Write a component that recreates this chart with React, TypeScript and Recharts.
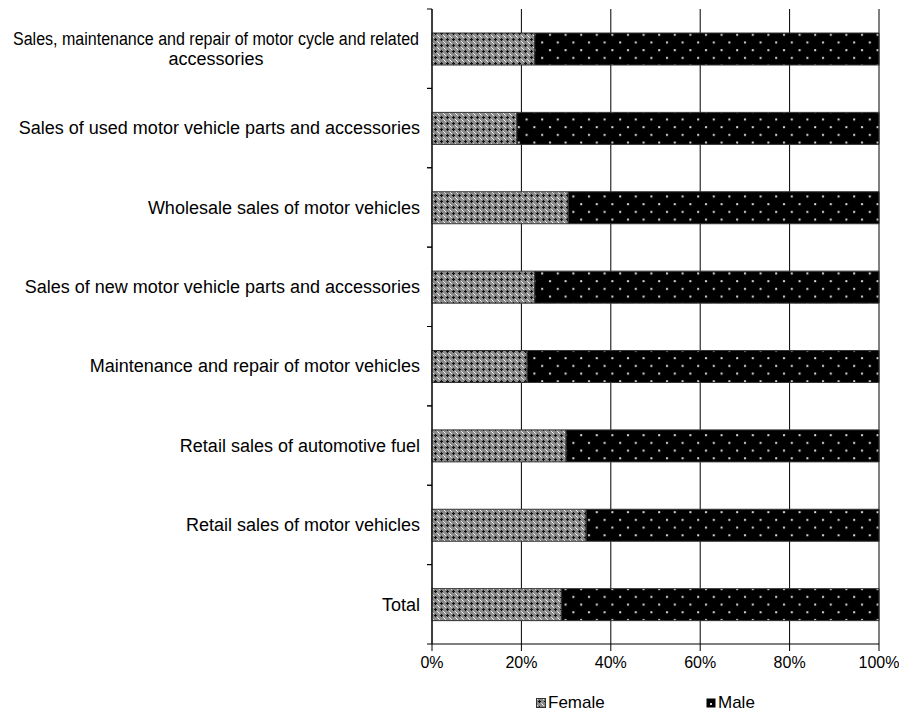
import { BarChart, Bar, XAxis, YAxis, CartesianGrid } from 'recharts'

const CATEGORIES = [
  'Sales, maintenance and repair of motor cycle and related accessories',
  'Sales of used motor vehicle parts and accessories',
  'Wholesale sales of motor vehicles',
  'Sales of new motor vehicle parts and accessories',
  'Maintenance and repair of motor vehicles',
  'Retail sales of automotive fuel',
  'Retail sales of motor vehicles',
  'Total',
]
const FEMALE = [0.23, 0.19, 0.305, 0.23, 0.213, 0.30, 0.345, 0.29]
const X_TICKS = [0, 0.2, 0.4, 0.6, 0.8, 1]

const FONT = '"Liberation Sans", Arial, sans-serif'

const data = CATEGORIES.map((name, i) => ({
  name,
  female: FEMALE[i],
  male: 1 - FEMALE[i],
}))

function CategoryTick(props: any) {
  const { x, y, payload } = props
  const half = payload.offset ? payload.offset : 635 / 16
  const label: string = payload.value
  const lines = label.length > 55
    ? ['Sales, maintenance and repair of motor cycle and related', 'accessories']
    : [label]
  return (
    <g>
      <line x1={x + 7} x2={x + 12} y1={y - half} y2={y - half} stroke="#000" />
      <line x1={x + 7} x2={x + 12} y1={y + half} y2={y + half} stroke="#000" />
      {lines.length === 1 ? (
        <text x={x} y={y} dy="0.35em" textAnchor="end" fontSize={18} fontFamily={FONT} fill="#000">
          {label}
        </text>
      ) : (
        <text fontSize={18} fontFamily={FONT} fill="#000" textAnchor="middle">
          <tspan x={x - 204} y={y - 10} dy="0.35em" textLength={406} lengthAdjust="spacingAndGlyphs">{lines[0]}</tspan>
          <tspan x={x - 204} y={y + 10} dy="0.35em">{lines[1]}</tspan>
        </text>
      )}
    </g>
  )
}

export default function App() {
  return (
    <div style={{ position: 'absolute', left: 0, top: 0, width: 899, height: 715, background: '#fff' }}>
      <BarChart
        width={899}
        height={715}
        data={data}
        layout="vertical"
        margin={{ top: 9, right: 20, bottom: 0, left: 0 }}
      >
        <defs>
          <pattern id="femalePat" width="6" height="6" patternUnits="userSpaceOnUse">
            <rect width="6" height="6" fill="#8a8a8a" />
            <rect x="0" y="0" width="1" height="1" fill="#fff" />
            <rect x="1" y="1" width="1" height="1" fill="#e0e0e0" />
            <rect x="3" y="2" width="1" height="3" fill="#111" />
            <rect x="2" y="3" width="3" height="1" fill="#111" />
            <rect x="5" y="5" width="1" height="1" fill="#e0e0e0" />
          </pattern>
          <pattern id="malePat" width="15.6" height="15.4" patternUnits="userSpaceOnUse">
            <rect width="15.6" height="15.4" fill="#000" />
            <rect x="3" y="3" width="2" height="2" fill="#ddd" />
            <rect x="10.8" y="10.7" width="2" height="2" fill="#ddd" />
          </pattern>
        </defs>
        <CartesianGrid vertical horizontal={false} stroke="#000" strokeOpacity={1} />
        <XAxis
          type="number"
          domain={[0, 1]}
          ticks={X_TICKS}
          tickFormatter={(v: number) => `${Math.round(v * 100)}%`}
          height={71}
          tickSize={7}
          tickMargin={6}
          stroke="#000"
          tick={{ fontSize: 16, fontFamily: FONT, fill: '#000' }}
          interval={0}
        />
        <YAxis
          type="category"
          dataKey="name"
          width={432}
          tickLine={false}
          tickSize={0}
          tickMargin={12}
          stroke="#000"
          interval={0}
          tick={<CategoryTick />}
        />
        <Bar dataKey="female" stackId="a" barSize={32} fill="url(#femalePat)" stroke="#333" strokeWidth={1} isAnimationActive={false} />
        <Bar dataKey="male" stackId="a" barSize={32} fill="url(#malePat)" stroke="#333" strokeWidth={1} isAnimationActive={false} />
      </BarChart>
      <div style={{ position: 'absolute', top: 693, left: 536, display: 'flex', alignItems: 'center', fontFamily: FONT, fontSize: 17, color: '#000' }}>
        <svg width="10" height="10" style={{ marginRight: 2 }}>
          <rect x="0.5" y="0.5" width="9" height="9" fill="url(#femalePat)" stroke="#333" />
        </svg>
        <span>Female</span>
      </div>
      <div style={{ position: 'absolute', top: 693, left: 706, display: 'flex', alignItems: 'center', fontFamily: FONT, fontSize: 17, color: '#000' }}>
        <svg width="10" height="10" style={{ marginRight: 2 }}>
          <rect x="0.5" y="0.5" width="9" height="9" fill="#000" />
          <rect x="4" y="5" width="2" height="2" fill="#ddd" />
        </svg>
        <span>Male</span>
      </div>
    </div>
  )
}
